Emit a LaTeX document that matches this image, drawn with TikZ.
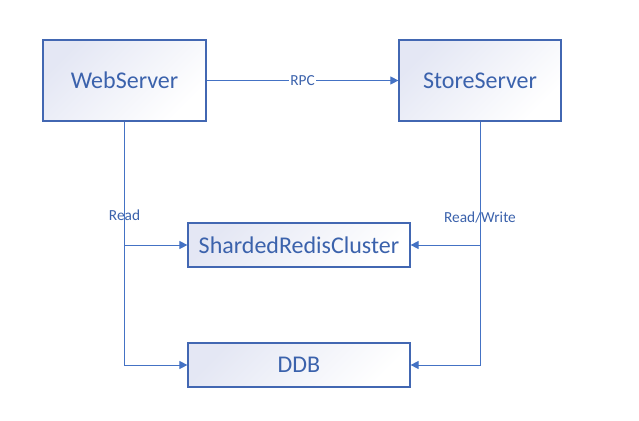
\documentclass[tikz,border=0pt]{standalone}
\usepackage{fontspec}
\setmainfont{Carlito}
\usetikzlibrary{arrows.meta, positioning, calc}
\definecolor{edgeblue}{HTML}{4472C4}
\definecolor{boxblue}{HTML}{4267B2}
\definecolor{textblue}{HTML}{3B62AC}
\definecolor{shadeblue}{HTML}{E4E7F4}

\begin{document}
\begin{tikzpicture}[
      x=0.75pt, y=-0.75pt,
      block/.style={draw=boxblue, line width=0.9pt, rectangle, align=center, inner sep=0pt,
        left color=shadeblue, right color=white, shading angle=45,
        text=textblue, font=\fontsize{18}{20}\selectfont},
      line/.style={draw=edgeblue, -{Triangle[length=6pt, width=6pt]}, line width=0.75pt},
      tag/.style={fill=white, inner sep=1pt, text=textblue, font=\fontsize{11.5}{13}\selectfont}
  ]
      \useasboundingbox (0,0) rectangle (639,421);

      % Top: servers
      \node [block, minimum width=163*0.75pt, minimum height=81*0.75pt] (web) at (124.5, 80.5) {WebServer};
      \node [block, minimum width=162*0.75pt, minimum height=81*0.75pt] (store) at (480, 80.5) {StoreServer};

      % Middle and bottom: storage
      \node [block, minimum width=222*0.75pt, minimum height=44*0.75pt] (redis) at (299, 245) {ShardedRedisCluster};
      \node [block, minimum width=222*0.75pt, minimum height=44*0.75pt] (ddb) at (299, 365) {DDB};

      % Connections
      \path [line] (web.east) -- node[tag] {RPC} (store.west);

      \path [line] (web.south) |- node[tag, pos=0.38] {Read} (redis.west);
      \path [line] (web.south) |- (ddb.west);

      \path [line] (store.south) |- node[tag, pos=0.39] {Read/Write} (redis.east);
      \path [line] (store.south) |- (ddb.east);
  \end{tikzpicture}
\end{document}
